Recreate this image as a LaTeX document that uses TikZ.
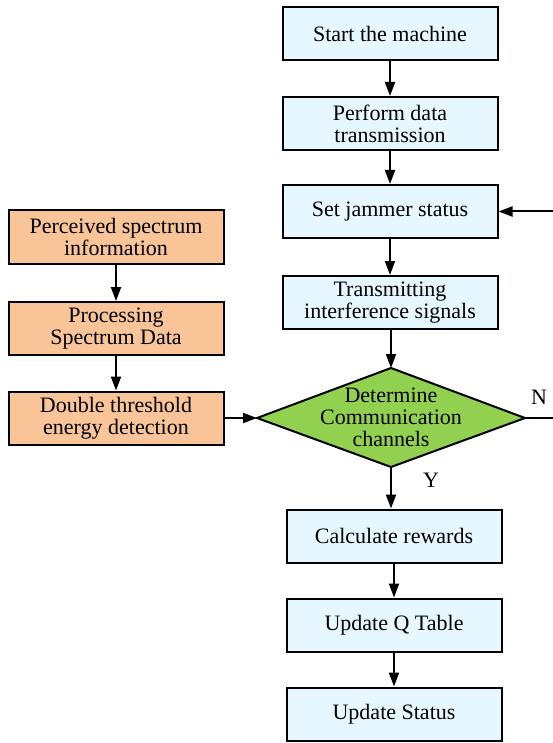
\documentclass[tikz,border=0pt]{standalone}
\usepackage{fontspec}
\setmainfont{Liberation Serif}
\usetikzlibrary{arrows.meta}
\definecolor{procblue}{RGB}{230,247,255}
\definecolor{senseorange}{RGB}{248,196,152}
\definecolor{decgreen}{RGB}{146,208,80}
\tikzset{
  stepbox/.style={draw=black, line width=2pt, fill=procblue, minimum width=215pt,
    minimum height=53pt, inner sep=0pt, align=center, font=\fontsize{22}{22}\selectfont},
  sensebox/.style={stepbox, fill=senseorange},
  flow/.style={draw=black, line width=2pt, -{Triangle[length=14pt,width=10pt]}},
  lbl/.style={font=\fontsize{22}{22}\selectfont, inner sep=0pt}
}
\begin{document}
\begin{tikzpicture}[x=1pt,y=-1pt]
\useasboundingbox (0,0) rectangle (552,743);
% main column
\node[stepbox] (start) at (390,33.5) {Start the machine};
\node[stepbox] (trans) at (390,123.5) {Perform data\\transmission};
\node[stepbox] (jam) at (390,211.5) {Set jammer status};
\node[stepbox] (intf) at (390,302.5) {Transmitting\\interference signals};
% decision
\coordinate (dL) at (257,418);
\coordinate (dT) at (391,368);
\coordinate (dR) at (525,418);
\coordinate (dB) at (391,467);
\draw[line width=2pt, fill=decgreen] (dL) -- (dT) -- (dR) -- (dB) -- cycle;
\node[lbl, align=center] (dec) at (391,417) {Determine\\Communication\\channels};
% lower column
\node[stepbox] (rew) at (394,536) {Calculate rewards};
\node[stepbox] (qtab) at (394,625) {Update Q Table};
\node[stepbox] (upd) at (394,714) {Update Status};
% spectrum sensing column
\node[sensebox] (perc) at (116,237) {Perceived spectrum\\information};
\node[sensebox] (proc) at (116,328.5) {Processing\\Spectrum Data};
\node[sensebox] (dbl) at (116,418) {Double threshold\\energy detection};
% connectors
\draw[flow] (start) -- (trans);
\draw[flow] (trans) -- (jam);
\draw[flow] (jam) -- (intf);
\draw[flow] (intf.south -| dT) -- (dT);
\draw[flow] (dB) -- (dB |- rew.north);
\draw[flow] (rew) -- (qtab);
\draw[flow] (qtab) -- (upd);
\draw[flow] (perc) -- (proc);
\draw[flow] (proc) -- (dbl);
\draw[flow] (dbl) -- (dL);
\coordinate (ret) at (580,418);
\draw[flow] (dR) -- (ret) |- (jam.east);
% branch labels
\node[lbl] (nlab) at (539,397) {N};
\node[lbl] (ylab) at (431,480) {Y};
\end{tikzpicture}
\end{document}
